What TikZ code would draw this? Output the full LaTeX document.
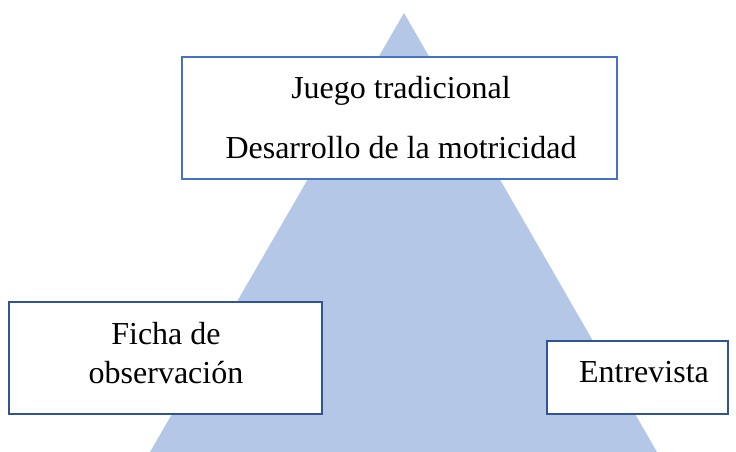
\documentclass[tikz,border=0pt]{standalone}
\usepackage{fontspec}
\setmainfont{Liberation Serif}
\definecolor{trifill}{HTML}{B4C7E7}
\definecolor{topline}{HTML}{4472C4}
\definecolor{boxline}{HTML}{2F5597}
\begin{document}
\begin{tikzpicture}[x=1pt,y=-1pt,
  lbl/.style={font=\fontsize{32}{36}\selectfont, inner sep=0pt, anchor=base},
  boxa/.style={draw=topline, line width=2.8pt, fill=white},
  boxb/.style={draw=boxline, line width=2.8pt, fill=white}]
\useasboundingbox (0,0) rectangle (736,452);
\fill[trifill] (404,13) -- (657,452) -- (150,452) -- cycle;
\draw[boxa] (182,57) rectangle (617,179);
\draw[boxb] (9,302) rectangle (322,414);
\draw[boxb] (547,341) rectangle (728,414);
\node[lbl] (t1) at (401,98) {Juego tradicional};
\node[lbl] (t2) at (401,158) {Desarrollo de la motricidad};
\node[lbl] (l1) at (166,344) {Ficha de};
\node[lbl] (l2) at (166,383) {observación};
\node[lbl] (r1) at (644,382) {Entrevista};
\end{tikzpicture}
\end{document}
